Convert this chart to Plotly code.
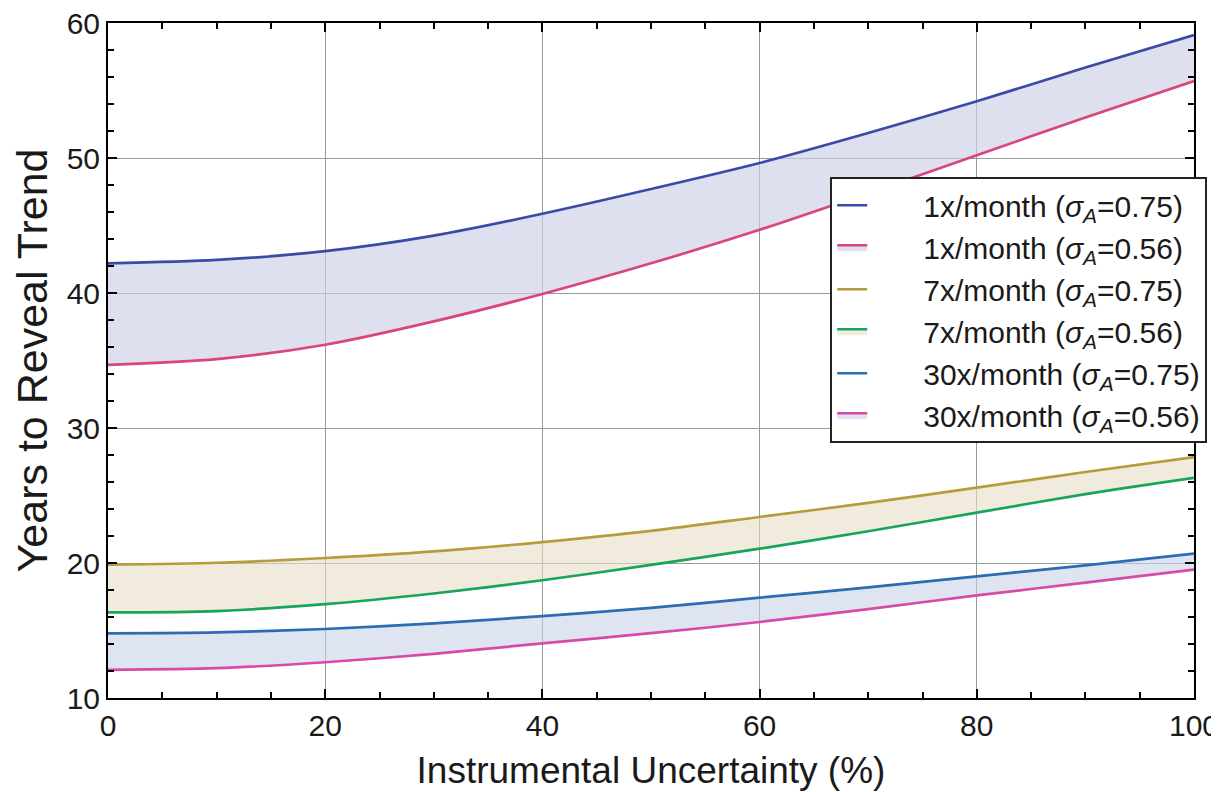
import plotly.graph_objects as go

uncertainty = [0, 10, 20, 30, 40, 50, 60, 70, 80, 90, 100]

m1_s075 = [42.2, 42.45, 43.1, 44.25, 45.87, 47.7, 49.63, 51.85, 54.2, 56.7, 59.1]
m1_s056 = [34.68, 35.1, 36.17, 37.9, 39.93, 42.2, 44.68, 47.4, 50.2, 53.0, 55.7]
m7_s075 = [19.88, 20.02, 20.37, 20.86, 21.55, 22.38, 23.41, 24.45, 25.58, 26.74, 27.85]
m7_s056 = [16.34, 16.44, 16.95, 17.74, 18.72, 19.86, 21.06, 22.35, 23.73, 25.1, 26.3]
m30_s075 = [14.79, 14.86, 15.11, 15.53, 16.07, 16.68, 17.43, 18.2, 19.01, 19.83, 20.69]
m30_s056 = [12.09, 12.21, 12.65, 13.27, 14.05, 14.8, 15.63, 16.58, 17.6, 18.54, 19.51]

pad = "\u2003\u2002\u2009"
names = [
    pad + "1x/month (<i>σ</i><sub><i>A</i></sub>=0.75)",
    pad + "1x/month (<i>σ</i><sub><i>A</i></sub>=0.56)",
    pad + "7x/month (<i>σ</i><sub><i>A</i></sub>=0.75)",
    pad + "7x/month (<i>σ</i><sub><i>A</i></sub>=0.56)",
    pad + "30x/month (<i>σ</i><sub><i>A</i></sub>=0.75)",
    pad + "30x/month (<i>σ</i><sub><i>A</i></sub>=0.56)",
]
series = [m1_s075, m1_s056, m7_s075, m7_s056, m30_s075, m30_s056]
line_colors = ["#3a4ba6", "#d9457c", "#b79c3c", "#17a55a", "#2b6cb3", "#d84aaa"]
band_fills = ["rgba(205,208,232,0.65)", "rgba(232,222,200,0.6)", "rgba(200,212,232,0.6)"]

fig = go.Figure()
for i, (nm, ys, col) in enumerate(zip(names, series, line_colors)):
    lower = i % 2 == 1
    fig.add_trace(go.Scatter(
        x=uncertainty, y=ys, name=nm, mode="lines",
        line=dict(color=col, width=2.7, shape="spline", smoothing=0.8),
        fill="tonexty" if lower else None,
        fillcolor=band_fills[i // 2] if lower else None,
    ))

font_family = "Liberation Sans, Arial, sans-serif"
axis_common = dict(
    showline=True, linecolor="black", linewidth=2, mirror="ticks",
    ticks="inside", ticklen=9, tickwidth=2, tickcolor="black",
    showgrid=True, gridcolor="#9a9a9a", gridwidth=1.3,
    zeroline=False, automargin=False, ticklabeloverflow="allow",
    tickfont=dict(family=font_family, size=30, color="#1a1a1a"),
)

fig.update_xaxes(
    range=[0, 100], tickvals=[0, 20, 40, 60, 80, 100],
    minor=dict(dtick=5, ticks="inside", ticklen=6, tickcolor="black", tickwidth=2, showgrid=False),
    title=dict(text="Instrumental Uncertainty (%)", font=dict(family=font_family, size=37, color="#1a1a1a"), standoff=16),
    **axis_common,
)
fig.update_yaxes(
    range=[10, 60], tickvals=[10, 20, 30, 40, 50, 60],
    minor=dict(dtick=2, ticks="inside", ticklen=6, tickcolor="black", tickwidth=2, showgrid=False),
    title=dict(text="Years to Reveal Trend", font=dict(family=font_family, size=43, color="#1a1a1a"), standoff=14),
    **axis_common,
)

fig.update_layout(
    width=1219, height=792,
    margin=dict(l=100, r=33, t=15, b=102),
    plot_bgcolor="white", paper_bgcolor="white",
    font=dict(family=font_family, color="#1a1a1a"),
    showlegend=True,
    legend=dict(
        x=0.665, y=0.7715, xanchor="left", yanchor="top",
        bgcolor="white", bordercolor="#222", borderwidth=2,
        font=dict(family=font_family, size=30, color="#1a1a1a"),
        itemwidth=30, tracegroupgap=0, traceorder="normal",
    ),
)

fig.write_html("out.html")
